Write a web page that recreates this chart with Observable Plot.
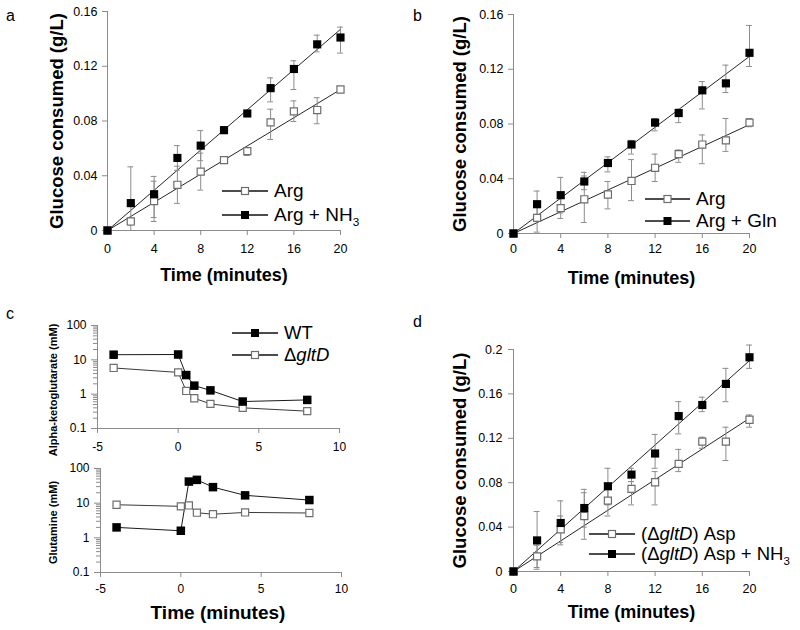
<!DOCTYPE html>
<html><head><meta charset="utf-8">
<script src="https://cdn.jsdelivr.net/npm/d3@7"></script>
<script src="https://cdn.jsdelivr.net/npm/@observablehq/plot@0.6"></script>
<style>
body{margin:0;background:#fff;font-family:"Liberation Sans",Arial,sans-serif;}
#root{position:relative;width:800px;height:630px;overflow:hidden;background:#fff;}
.panel{position:absolute;}
.panel svg{overflow:visible;}
.letter{position:absolute;font-size:16px;line-height:16px;color:#000;}
.leg{position:absolute;display:flex;align-items:center;height:24px;white-space:nowrap;color:#000;}
.leg sub{font-size:0.62em;vertical-align:-0.4em;line-height:0;}
</style></head><body><div id="root"></div>
<script>
// ---------- shared ----------
const time = [0, 2, 4, 6, 8, 10, 12, 14, 16, 18, 20];
const glucoseXTicks = [0, 4, 8, 12, 16, 20];
const glucoseYTicks016 = [0, 0.04, 0.08, 0.12, 0.16];
const glucoseYTicks02 = [0, 0.04, 0.08, 0.12, 0.16, 0.2];

// ---------- panel a ----------
const aArg    = [0, 0.0066, 0.0215, 0.0334, 0.043, 0.0514, 0.058, 0.079, 0.087, 0.088, 0.103];
const aArgLo  = [0, 0.004, 0.0066, 0.0198, 0.0295, 0.0495, 0.0548, 0.0665, 0.0796, 0.078, 0.1015];
const aArgHi  = [0, 0.009, 0.036, 0.047, 0.0565, 0.0533, 0.0594, 0.0886, 0.0947, 0.097, 0.1045];
const aNH3    = [0, 0.020, 0.0265, 0.053, 0.062, 0.0733, 0.0855, 0.104, 0.118, 0.136, 0.141];
const aNH3Lo  = [0, 0.0, 0.0095, 0.044, 0.051, 0.0708, 0.084, 0.094, 0.103, 0.1305, 0.1296];
const aNH3Hi  = [0, 0.0465, 0.0395, 0.062, 0.073, 0.0758, 0.087, 0.1115, 0.124, 0.1427, 0.1486];
const aFitSlopes = [0.00515, 0.00735]; // g/L per minute (Arg, Arg + NH3)

// ---------- panel b ----------
const bArg    = [0, 0.0114, 0.0185, 0.025, 0.0285, 0.0384, 0.048, 0.058, 0.065, 0.068, 0.081];
const bArgLo  = [0, 0.001, 0.011, 0.008, 0.018, 0.024, 0.038, 0.052, 0.051, 0.060, 0.078];
const bArgHi  = [0, 0.021, 0.026, 0.042, 0.038, 0.054, 0.058, 0.061, 0.072, 0.084, 0.084];
const bGln    = [0, 0.0214, 0.028, 0.038, 0.0515, 0.065, 0.081, 0.088, 0.1046, 0.1097, 0.132];
const bGlnLo  = [0, 0.012, 0.015, 0.032, 0.045, 0.058, 0.075, 0.081, 0.091, 0.103, 0.122];
const bGlnHi  = [0, 0.031, 0.041, 0.0447, 0.056, 0.068, 0.084, 0.091, 0.111, 0.123, 0.152];
const bFitSlopes = [0.003975, 0.00647];

// ---------- panel c ----------
const cTime = [-4, 0, 0.5, 1, 2, 4, 8];
const akgWT    = [14.1, 14.3, 3.6, 1.77, 1.29, 0.61, 0.68];
const akgDelta = [5.8, 4.3, 1.24, 0.76, 0.52, 0.40, 0.32];
const glnWT    = [2.0, 1.6, 42, 47, 29, 16.8, 12.3];
const glnDelta = [9.0, 8.1, 8.6, 5.3, 4.8, 5.4, 5.2];
const cXTicks = [-5, 0, 5, 10];
const cYTicks = [0.1, 1, 10, 100];

// ---------- panel d ----------
const dAsp    = [0, 0.0136, 0.038, 0.050, 0.0639, 0.0744, 0.0804, 0.097, 0.117, 0.117, 0.1367];
const dAspLo  = [0, 0.0036, 0.026, 0.029, 0.050, 0.060, 0.060, 0.090, 0.111, 0.100, 0.130];
const dAspHi  = [0, 0.0236, 0.050, 0.071, 0.075, 0.081, 0.090, 0.110, 0.121, 0.130, 0.141];
const dNH3    = [0, 0.028, 0.0437, 0.0572, 0.0768, 0.0873, 0.1063, 0.140, 0.150, 0.169, 0.193];
const dNH3Lo  = [0, 0.002, 0.024, 0.040, 0.060, 0.081, 0.093, 0.124, 0.144, 0.153, 0.183];
const dNH3Hi  = [0, 0.054, 0.0636, 0.074, 0.093, 0.093, 0.1235, 0.153, 0.157, 0.183, 0.204];
const dFitSlopes = [0.0069, 0.0095];

// ---------- text ----------
const panelLetters = ["a", "b", "c", "d"];
const xTitle = "Time (minutes)";
const glucoseTitle = "Glucose consumed (g/L)";
const akgTitle = "Alpha-ketoglutarate (mM)";
const glnTitle = "Glutamine (mM)";
const legendA = ["Arg", "Arg + NH<sub>3</sub>"];
const legendB = ["Arg", "Arg + Gln"];
const legendC = ["WT", "Δ<i>gltD</i>"];
const legendD = ["(Δ<i>gltD</i>) Asp", "(Δ<i>gltD</i>) Asp + NH<sub>3</sub>"];

// ---------- styling ----------
const AXIS = "#8c8c8c", ERR = "#8c8c8c", OPEN = "#6e6e6e", FIT = "#262626";
const FONT = "'Liberation Sans', Arial, sans-serif";
const root = document.getElementById("root");

function place(el, left, top) {
  const d = document.createElement("div");
  d.className = "panel";
  d.style.left = left + "px"; d.style.top = top + "px";
  d.appendChild(el); root.appendChild(d);
}

const titleOpts = {textAnchor: "middle", lineAnchor: "middle", fontWeight: "bold"};

function glucosePanel(c) {
  const rows = (y, lo, hi) => time.map((t, i) => ({t, y: y[i], lo: lo[i], hi: hi[i]}));
  const open = rows(c.open, c.openLo, c.openHi);
  const filled = rows(c.filled, c.filledLo, c.filledHi);
  const bars = [...open, ...filled].filter(d => d.hi > d.lo);
  const tEnd = time[time.length - 1];
  const fits = c.slopes.map(s => ({x1: time[0], y1: 0, x2: tEnd, y2: s * tEnd}));
  const cap = 0.25;
  return Plot.plot({
    width: 400, height: c.height,
    marginLeft: c.ml, marginRight: c.mr, marginTop: c.mt, marginBottom: c.mb,
    x: {domain: [0, 20], label: null},
    y: {domain: [0, c.yMax], label: null},
    style: {fontFamily: FONT, fontSize: "12.5px", color: "#000", background: "transparent", overflow: "visible"},
    marks: [
      Plot.ruleX([0], {stroke: AXIS}),
      Plot.ruleY([0], {stroke: AXIS}),
      Plot.axisX({ticks: glucoseXTicks, tickSize: 5, tickPadding: c.xPad, stroke: AXIS, label: null, tickFormat: d => String(d)}),
      Plot.axisY({ticks: c.yTicks, tickSize: 5, tickPadding: c.yPad, stroke: AXIS, label: null, tickFormat: d3.format("~g")}),
      Plot.link(fits, {x1: "x1", y1: "y1", x2: "x2", y2: "y2", stroke: FIT, strokeWidth: 1}),
      Plot.ruleX(bars, {x: "t", y1: "lo", y2: "hi", stroke: ERR, strokeWidth: 1}),
      Plot.ruleY(bars, {y: "hi", x1: d => d.t - cap, x2: d => d.t + cap, stroke: ERR, strokeWidth: 1}),
      Plot.ruleY(bars, {y: "lo", x1: d => d.t - cap, x2: d => d.t + cap, stroke: ERR, strokeWidth: 1}),
      Plot.dot(open, {x: "t", y: "y", symbol: "square", r: 4, fill: "white", stroke: OPEN, strokeWidth: 1.2}),
      Plot.dot(filled, {x: "t", y: "y", symbol: "square", r: 4.6, fill: "black"}),
      Plot.text([xTitle], {...titleOpts, text: d => d, frameAnchor: "bottom", dy: c.xTitleDy, fontSize: 18}),
      Plot.text([glucoseTitle], {...titleOpts, text: d => d, frameAnchor: "left", dx: c.yTitleDx, rotate: -90, fontSize: 18.5})
    ]
  });
}

const minorLogTicks = [];
for (const dec of [0.1, 1, 10]) for (let k = 2; k <= 9; k++) minorLogTicks.push(+(k * dec).toPrecision(3));

function logPanel(c) {
  const wt = cTime.map((t, i) => ({t, v: c.wt[i]}));
  const dl = cTime.map((t, i) => ({t, v: c.delta[i]}));
  const x0 = -5, minorLen = 0.25;
  const marks = [
    Plot.ruleX([x0], {stroke: AXIS}),
    Plot.ruleY([0.1], {stroke: AXIS}),
    Plot.axisX({ticks: cXTicks, tickSize: 5, tickPadding: c.xPad, stroke: AXIS, label: null, tickFormat: d => String(d)}),
    Plot.ruleY(minorLogTicks, {y: d => d, x1: () => x0 - minorLen, x2: () => x0, stroke: AXIS, strokeWidth: 1}),
    Plot.axisY({ticks: cYTicks, tickSize: 6, tickPadding: 5, stroke: AXIS, label: null, tickFormat: d => String(d)}),
    Plot.line(dl, {x: "t", y: "v", stroke: "#3a3a3a", strokeWidth: 1}),
    Plot.line(wt, {x: "t", y: "v", stroke: "#1a1a1a", strokeWidth: 1}),
    Plot.dot(dl, {x: "t", y: "v", symbol: "square", r: 4, fill: "white", stroke: OPEN, strokeWidth: 1.2}),
    Plot.dot(wt, {x: "t", y: "v", symbol: "square", r: 4.8, fill: "black"}),
    Plot.text([c.yTitle], {...titleOpts, text: d => d, frameAnchor: "left", dx: c.yTitleDx, dy: c.yTitleDy, rotate: -90, fontSize: 11})
  ];
  if (c.showX) marks.push(Plot.text([xTitle], {...titleOpts, text: d => d, frameAnchor: "bottom", dx: -3, dy: 40, fontSize: 19}));
  return Plot.plot({
    width: 400, height: c.height,
    marginLeft: c.ml, marginRight: c.mr, marginTop: c.mt, marginBottom: c.mb,
    x: {domain: [-5, 10], label: null},
    y: {type: "log", domain: [0.1, 100], label: null},
    style: {fontFamily: FONT, fontSize: "12px", color: "#000", background: "transparent", overflow: "visible"},
    marks
  });
}

// panel a
place(glucosePanel({open: aArg, openLo: aArgLo, openHi: aArgHi, filled: aNH3, filledLo: aNH3Lo, filledHi: aNH3Hi,
  slopes: aFitSlopes, yMax: 0.16, yTicks: glucoseYTicks016, height: 300, ml: 107, mr: 60, mt: 11, mb: 70,
  xPad: 9, yPad: 5, xTitleDy: 45, yTitleDx: -50}), 0, 0);
// panel b
place(glucosePanel({open: bArg, openLo: bArgLo, openHi: bArgHi, filled: bGln, filledLo: bGlnLo, filledHi: bGlnHi,
  slopes: bFitSlopes, yMax: 0.16, yTicks: glucoseYTicks016, height: 300, ml: 113, mr: 51, mt: 14, mb: 67,
  xPad: 6, yPad: 5, xTitleDy: 45, yTitleDx: -53}), 400, 0);
// panel c (top and bottom)
place(logPanel({wt: akgWT, delta: akgDelta, yTitle: akgTitle, height: 165, ml: 97, mr: 61, mt: 25, mb: 37,
  xPad: 9, yTitleDx: -44, yTitleDy: 13, showX: false}), 0, 300);
place(logPanel({wt: glnWT, delta: glnDelta, yTitle: glnTitle, height: 175, ml: 100, mr: 59, mt: 13, mb: 58,
  xPad: 7, yTitleDx: -47, yTitleDy: 2, showX: true}), 0, 455);
// panel d
place(glucosePanel({open: dAsp, openLo: dAspLo, openHi: dAspHi, filled: dNH3, filledLo: dNH3Lo, filledHi: dNH3Hi,
  slopes: dFitSlopes, yMax: 0.2, yTicks: glucoseYTicks02, height: 330, ml: 113, mr: 51, mt: 49, mb: 59,
  xPad: 8, yPad: 6, xTitleDy: 41, yTitleDx: -53}), 400, 300);

// panel letters
const letterPos = [[6, 8], [413, 8], [6, 306], [413, 314]];
panelLetters.forEach((l, i) => {
  const d = document.createElement("div");
  d.className = "letter"; d.textContent = l;
  d.style.left = letterPos[i][0] + "px"; d.style.top = letterPos[i][1] + "px";
  root.appendChild(d);
});

// legends
function legend(labels, filledFlags, x, cys, fontSize, lineW) {
  labels.forEach((lab, i) => {
    const row = document.createElement("div");
    row.className = "leg";
    row.style.left = x + "px"; row.style.top = (cys[i] - 12) + "px"; row.style.fontSize = fontSize + "px";
    const f = filledFlags[i];
    const m = lineW / 2;
    row.innerHTML = `<svg width="${lineW + 4}" height="12" style="margin-right:2px">
      <line x1="0" y1="6" x2="${lineW}" y2="6" stroke="#111" stroke-width="1.5"/>
      ${f ? `<rect x="${m - 4}" y="2" width="8" height="8" fill="#000"/>`
          : `<rect x="${m - 3.5}" y="2.5" width="7" height="7" fill="#fff" stroke="${OPEN}" stroke-width="1.2"/>`}
    </svg><span>${lab}</span>`;
    root.appendChild(row);
  });
}
legend(legendA, [false, true], 222, [191, 215], 19, 46);
legend(legendB, [false, true], 645, [199, 221], 19, 45);
legend(legendC, [true, false], 232, [333, 355], 18.5, 46);
legend(legendD, [false, true], 589, [534, 554], 18.5, 46);
</script></body></html>
